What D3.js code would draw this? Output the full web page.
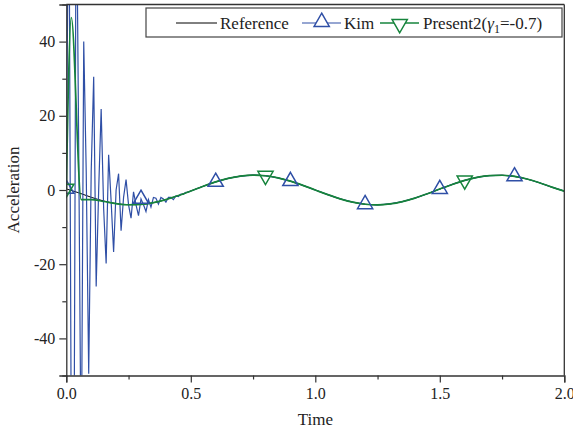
<!DOCTYPE html>
<html>
<head>
<meta charset="utf-8">
<script src="https://cdn.jsdelivr.net/npm/d3@7/dist/d3.min.js"></script>
<style>
body { margin: 0; background: #fff; }
text { font-family: 'Liberation Serif', 'Times New Roman', serif; fill: #222; }
</style>
</head>
<body>
<svg width="573" height="432"></svg>
<script>
// reference solution, sampled every 0.05 s
var refTime = d3.range(41).map(function(i){ return i * 0.05 })
var refAcc = [0.3, -0.76, -1.96, -2.96, -3.66, -3.98, -3.90, -3.42, -2.59, -1.50,
  -0.26, 1.02, 2.18, 3.12, 3.75, 4.00, 3.84, 3.28, 2.39, 1.26,
  0.0, -1.26, -2.39, -3.28, -3.84, -4.00, -3.75, -3.12, -2.18, -1.02,
  0.26, 1.50, 2.59, 3.42, 3.90, 3.98, 3.66, 2.96, 1.96, 0.76, -0.3]

// Kim: 0.01 s steps during the spurious oscillation, then 0.05 s
var kimEarlyTime = d3.range(50).map(function(i){ return i * 0.01 })
var kimEarlyAcc = [0.3, 95, -70, -95, 90, 10, -80, 40, 5, -49.5,
  5, 30.5, -26, 0, 21.8, -5, -19.8, 9.5, -3, -16.7,
  0, 4.4, -11, -2, 2.8, -4, -7.6, -0.5, -4, -6.9,
  -2.4, -4, -5.8, -2.6, -4.6, -2.0, -2.2, -3.8, -2.0, -2.4,
  -3.3, -2.0, -2.0, -2.6, -1.6, -1.8, -1.1, -1.2, -0.6, -0.55]
var kimLateTime = d3.range(10, 41).map(function(i){ return i * 0.05 })
var kimLateAcc = [-0.26, 1.02, 2.18, 3.12, 3.75, 4.00, 3.84, 3.28, 2.39, 1.26,
  0.0, -1.26, -2.39, -3.28, -3.84, -4.00, -3.75, -3.12, -2.18, -1.02,
  0.26, 1.50, 2.59, 3.42, 3.90, 3.98, 3.66, 2.96, 1.96, 0.76, -0.3]
var kimMarkTime = [0, 0.3, 0.6, 0.9, 1.2, 1.5, 1.8]

// Present2 (gamma1 = -0.7)
var p2Time = [0, 0.02, 0.06, 0.1, 0.15].concat(d3.range(4, 41).map(function(i){ return i * 0.05 }))
var p2Acc = [0.4, 46.5, -2.6, -2.6, -3.1, -3.66, -3.98, -3.90, -3.42, -2.59, -1.50,
  -0.26, 1.02, 2.18, 3.12, 3.75, 4.00, 3.84, 3.28, 2.39, 1.26,
  0.0, -1.26, -2.39, -3.28, -3.84, -4.00, -3.75, -3.12, -2.18, -1.02,
  0.26, 1.50, 2.59, 3.42, 3.90, 3.98, 3.66, 2.96, 1.96, 0.76, -0.3]
var p2MarkTime = [0, 0.8, 1.6]

var xTicks = [0, 0.5, 1.0, 1.5, 2.0]
var xMinor = [0.25, 0.75, 1.25, 1.75]
var yTicks = [-40, -20, 0, 20, 40]
var yMinor = [-50, -30, -10, 10, 30, 50]

var kimColor = '#2f4fa6', p2Color = '#16843c', axisColor = '#333'

var svg = d3.select('svg'),
    pLeft = 66.3, pRight = 564.3, pTop = 4.5, pBottom = 375.5

var x = d3.scaleLinear().domain([0, 2.0]).range([pLeft, pRight])
var y = d3.scaleLinear().domain([-50, 50]).range([pBottom, pTop])

function zip(ts, vs){ return ts.map(function(t, i){ return [t, vs[i]] }) }
var refData = zip(refTime, refAcc)
var kimData = zip(kimEarlyTime, kimEarlyAcc).concat(zip(kimLateTime, kimLateAcc))
var p2Data = zip(p2Time, p2Acc)

function valueAt(data, t){
  return data.reduce(function(best, d){ return Math.abs(d[0] - t) < Math.abs(best[0] - t) ? d : best })
}

svg.append('clipPath').attr('id', 'clip')
  .append('rect').attr('x', pLeft).attr('y', pTop).attr('width', pRight - pLeft).attr('height', pBottom - pTop)

var line = d3.line().x(function(d){ return x(d[0]) }).y(function(d){ return y(d[1]) })
var smooth = d3.line().x(function(d){ return x(d[0]) }).y(function(d){ return y(d[1]) }).curve(d3.curveMonotoneX)

var plot = svg.append('g').attr('clip-path', 'url(#clip)')

plot.append('path').datum(refData).attr('d', smooth)
  .attr('fill', 'none').attr('stroke', '#000').attr('stroke-width', 1)
plot.append('path').datum(kimData).attr('d', line)
  .attr('fill', 'none').attr('stroke', kimColor).attr('stroke-width', 1.2)
plot.append('path').datum(p2Data).attr('d', smooth)
  .attr('fill', 'none').attr('stroke', p2Color).attr('stroke-width', 1.7)

var tri = d3.symbol().type(d3.symbolTriangle).size(100)

plot.selectAll('.kimMark').data(kimMarkTime.map(function(t){ return valueAt(kimData, t) }))
  .enter().append('path').attr('class', 'kimMark').attr('d', tri)
  .attr('transform', function(d){ return 'translate(' + x(d[0]) + ',' + y(d[1]) + ')' })
  .attr('fill', 'none').attr('stroke', kimColor).attr('stroke-width', 1.5)

plot.selectAll('.p2Mark').data(p2MarkTime.map(function(t){ return valueAt(p2Data, t) }))
  .enter().append('path').attr('class', 'p2Mark').attr('d', tri)
  .attr('transform', function(d){ return 'translate(' + x(d[0]) + ',' + y(d[1]) + ') rotate(180)' })
  .attr('fill', 'none').attr('stroke', p2Color).attr('stroke-width', 1.5)

// axes
var xAxis = svg.append('g').attr('transform', 'translate(0,' + pBottom + ')')
  .call(d3.axisBottom(x).tickValues(xTicks).tickFormat(function(d){ return d.toFixed(1) }).tickSize(7).tickPadding(5))
var xAxisMinor = svg.append('g').attr('transform', 'translate(0,' + pBottom + ')')
  .call(d3.axisBottom(x).tickValues(xMinor).tickFormat('').tickSize(4))
var yAxis = svg.append('g').attr('transform', 'translate(' + pLeft + ',0)')
  .call(d3.axisLeft(y).tickValues(yTicks).tickFormat(function(d){ return String(d) }).tickSize(7).tickPadding(4))
var yAxisMinor = svg.append('g').attr('transform', 'translate(' + pLeft + ',0)')
  .call(d3.axisLeft(y).tickValues(yMinor).tickFormat('').tickSize(4))

svg.selectAll('.domain').attr('stroke', axisColor).attr('stroke-width', 1.3)
svg.selectAll('.tick line').attr('stroke', axisColor).attr('stroke-width', 1.2)
svg.selectAll('.tick text').style('font-size', '16px').attr('fill', '#222')
xAxisMinor.select('.domain').remove()
yAxisMinor.select('.domain').remove()

// frame top & right
svg.append('line').attr('x1', pLeft).attr('x2', pRight).attr('y1', pTop).attr('y2', pTop)
  .attr('stroke', axisColor).attr('stroke-width', 1.3)
svg.append('line').attr('x1', pRight).attr('x2', pRight).attr('y1', pTop).attr('y2', pBottom)
  .attr('stroke', axisColor).attr('stroke-width', 1.3)

svg.append('text').attr('x', (pLeft + pRight) / 2).attr('y', 425)
  .attr('text-anchor', 'middle').style('font-size', '17px').text('Time')
svg.append('text').attr('transform', 'translate(19,' + ((pTop + pBottom) / 2) + ') rotate(-90)')
  .attr('text-anchor', 'middle').style('font-size', '17px').text('Acceleration')

// legend
var lg = svg.append('g')
lg.append('rect').attr('x', 146).attr('y', 8).attr('width', 416).attr('height', 29)
  .attr('fill', '#fff').attr('stroke', '#444').attr('stroke-width', 1.2)

var ly = 23
lg.append('line').attr('x1', 176).attr('x2', 217).attr('y1', ly).attr('y2', ly).attr('stroke', '#000')
lg.append('text').attr('x', 220).attr('y', ly + 6).style('font-size', '17px').text('Reference')

lg.append('line').attr('x1', 302).attr('x2', 341).attr('y1', ly).attr('y2', ly)
  .attr('stroke', kimColor).attr('stroke-width', 1.2)
lg.append('path').attr('d', tri).attr('transform', 'translate(321.7,' + (ly - 1) + ')')
  .attr('fill', '#fff').attr('stroke', kimColor).attr('stroke-width', 1.5)
lg.append('text').attr('x', 344).attr('y', ly + 6).style('font-size', '17px').text('Kim')

lg.append('line').attr('x1', 380).attr('x2', 419).attr('y1', ly).attr('y2', ly)
  .attr('stroke', p2Color).attr('stroke-width', 1.5)
lg.append('path').attr('d', tri).attr('transform', 'translate(399.7,' + (ly + 1) + ') rotate(180)')
  .attr('fill', '#fff').attr('stroke', p2Color).attr('stroke-width', 1.5)
var p2Label = lg.append('text').attr('x', 423).attr('y', ly + 6).style('font-size', '17px')
p2Label.append('tspan').text('Present2(')
p2Label.append('tspan').style('font-style', 'italic').text('γ')
p2Label.append('tspan').attr('dy', 4).style('font-size', '12px').text('1')
p2Label.append('tspan').attr('dy', -4).text('=-0.7)')
</script>
</body>
</html>
